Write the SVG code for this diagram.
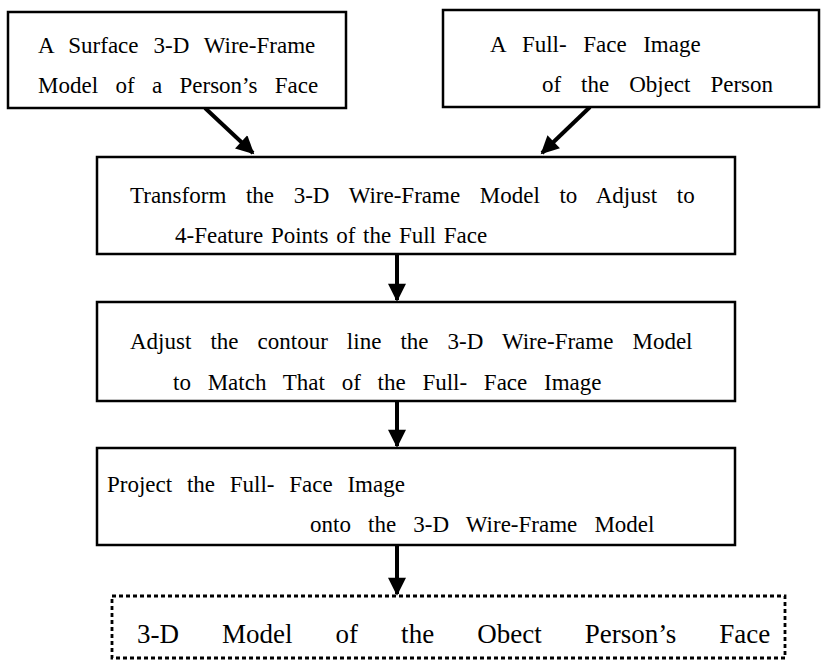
<svg xmlns="http://www.w3.org/2000/svg" width="821" height="661" viewBox="0 0 821 661">
<defs>
<style>
.box{fill:#fff;stroke:#000;stroke-width:2.5}
.dash{fill:#fff;stroke:#000;stroke-width:2.8;stroke-dasharray:4 3}
.t{font-family:"Liberation Serif","Times New Roman",serif;font-size:23px;fill:#000}
.tb{font-family:"Liberation Serif","Times New Roman",serif;font-size:27px;fill:#000}
.c{stroke:#000;stroke-width:4;fill:none}
</style>
<marker id="ah" viewBox="0 0 10 10" refX="9" refY="5" markerWidth="5" markerHeight="4.5" markerUnits="strokeWidth" orient="auto">
<path d="M0,0 L10,5 L0,10 z" fill="#000"/>
</marker>
</defs>
<g id="connectors">
<line class="c" x1="205" y1="108" x2="253" y2="153" marker-end="url(#ah)"/>
<line class="c" x1="590" y1="107" x2="542" y2="153" marker-end="url(#ah)"/>
<line class="c" x1="397" y1="255" x2="397" y2="300" marker-end="url(#ah)"/>
<line class="c" x1="397" y1="402" x2="397" y2="446" marker-end="url(#ah)"/>
<line class="c" x1="397" y1="546" x2="397" y2="594" marker-end="url(#ah)"/>
</g>
<g id="n1">
<rect class="box" x="8" y="12" width="338" height="96"/>
<text class="t" x="38" y="53" style="word-spacing:9.2px">A Surface 3-D Wire-Frame</text>
<text class="t" x="38" y="93" style="word-spacing:11.6px">Model of a Person’s Face</text>
</g>
<g id="n2">
<rect class="box" x="443" y="10" width="376" height="97"/>
<text class="t" x="490" y="52" style="word-spacing:10.8px">A Full- Face Image</text>
<text class="t" x="542" y="92" style="word-spacing:14.2px">of the Object Person</text>
</g>
<g id="n3">
<rect class="box" x="97" y="157" width="638" height="97"/>
<text class="t" x="130" y="203" style="word-spacing:13.9px">Transform the 3-D Wire-Frame Model to Adjust to</text>
<text class="t" x="175" y="243" style="word-spacing:2px">4-Feature Points of the Full Face</text>
</g>
<g id="n4">
<rect class="box" x="97" y="302" width="638" height="99"/>
<text class="t" x="130" y="349" style="word-spacing:13.3px">Adjust the contour line the 3-D Wire-Frame Model</text>
<text class="t" x="173" y="390" style="word-spacing:11px">to Match That of the Full- Face Image</text>
</g>
<g id="n5">
<rect class="box" x="97" y="448" width="638" height="97"/>
<text class="t" x="107" y="492" style="word-spacing:9px">Project the Full- Face Image</text>
<text class="t" x="310" y="532" style="word-spacing:11.4px">onto the 3-D Wire-Frame Model</text>
</g>
<g id="n6">
<rect class="dash" x="112" y="596" width="673" height="62"/>
<text class="tb" x="137" y="643" style="word-spacing:36.3px">3-D Model of the Obect Person’s Face</text>
</g>
</svg>
